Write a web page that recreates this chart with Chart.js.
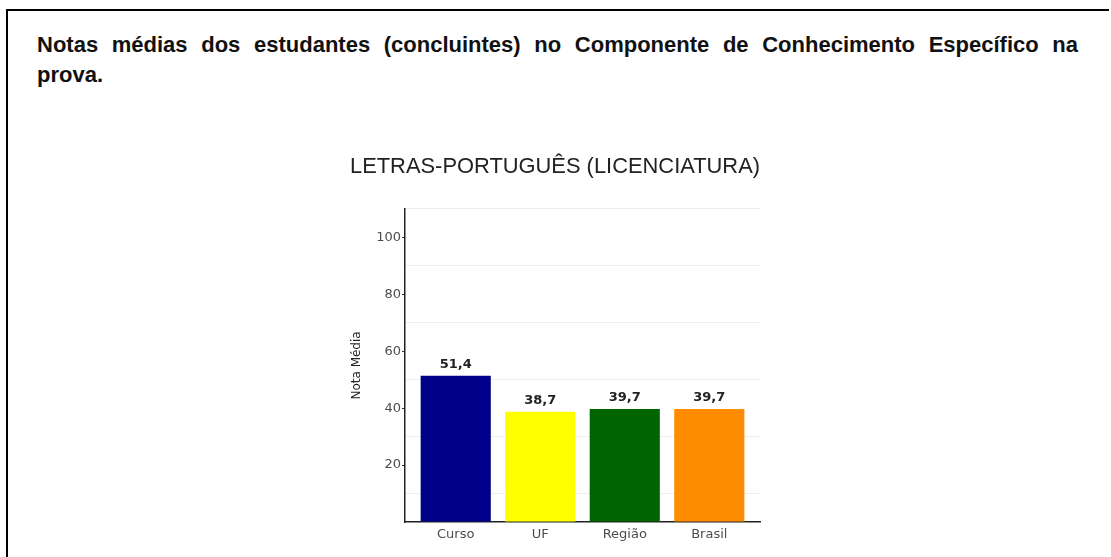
<!DOCTYPE html>
<html>
<head>
<meta charset="utf-8">
<script src="https://cdn.jsdelivr.net/npm/chart.js@4.4.1/dist/chart.umd.min.js"></script>
<style>
  html, body { margin: 0; padding: 0; background: #fff; }
  body { width: 1111px; height: 557px; position: relative; overflow: hidden; }
  #frame { position: absolute; left: 6px; top: 9px; width: 1103px; height: 560px;
           border-top: 2px solid #000; border-left: 2px solid #000; box-sizing: border-box; }
  #heading { position: absolute; left: 37px; top: 30px; width: 1041px;
             font-family: "Liberation Sans", Arial, sans-serif; font-weight: bold;
             font-size: 22px; color: #111; line-height: 30px; }
  #heading .l1 { text-align: justify; text-align-last: justify; white-space: nowrap; }
  #wrap { position: absolute; left: 345px; top: 140px; width: 425px; height: 412px; }
</style>
</head>
<body>
<div id="frame"></div>
<div id="heading">
  <div class="l1">Notas médias dos estudantes (concluintes) no Componente de Conhecimento Específico na</div>
  <div>prova.</div>
</div>
<div id="wrap"><canvas id="c"></canvas></div>
<script>
// ---- data ----
const categories = ["Curso", "UF", "Região", "Brasil"];
const values = [51.4, 38.7, 39.7, 39.7];
const barColors = ["#00008B", "#FFFF00", "#006400", "#FF8C00"];
const yTickLabels = [20, 40, 60, 80, 100];
const chartTitle = "LETRAS-PORTUGUÊS (LICENCIATURA)";
const yTitle = "Nota Média";

const fmt = v => v.toFixed(1).replace(".", ",");

const valueLabels = {
  id: "valueLabels",
  afterDatasetsDraw(chart) {
    const ctx = chart.ctx;
    const meta = chart.getDatasetMeta(0);
    ctx.save();
    ctx.font = "bold 13px 'DejaVu Sans', sans-serif";
    ctx.fillStyle = "#222";
    ctx.textAlign = "center";
    ctx.textBaseline = "bottom";
    meta.data.forEach((bar, i) => {
      ctx.fillText(fmt(values[i]), bar.x, bar.y - 5);
    });
    ctx.restore();
  }
};

new Chart(document.getElementById("c"), {
  type: "bar",
  data: {
    datasets: [{
      data: values.map((v, i) => ({ x: i + 1, y: v })),
      backgroundColor: barColors,
      borderWidth: 0,
      barPercentage: 0.83,
      categoryPercentage: 1.0
    }]
  },
  options: {
    responsive: true,
    maintainAspectRatio: false,
    animation: false,
    layout: { padding: { left: 5, right: 10, top: 0, bottom: 0 } },
    plugins: {
      legend: { display: false },
      tooltip: { enabled: false },
      title: {
        display: true,
        text: chartTitle,
        color: "#222",
        font: { family: "'Liberation Sans', Arial, sans-serif", size: 22.4, weight: "normal" },
        padding: { top: 13, bottom: 29 }
      }
    },
    scales: {
      x: {
        type: "linear",
        min: 0.4,
        max: 4.6,
        offset: false,
        afterBuildTicks: s => { s.ticks = categories.map((c, i) => ({ value: i + 1 })); },
        afterFit: s => { s.height = 30; },
        ticks: {
          callback: v => categories[Math.round(v) - 1],
          color: "#4d4d4d",
          font: { family: "'DejaVu Sans', sans-serif", size: 13 },
          padding: -3,
          maxRotation: 0,
          autoSkip: false
        },
        grid: { display: false, offset: false },
        border: { display: true, color: "#222", width: 1.5 }
      },
      y: {
        min: 0,
        max: 110,
        afterBuildTicks: s => {
          const t = [];
          for (let v = 0; v <= 110; v += 10) t.push({ value: v });
          s.ticks = t;
        },
        afterFit: s => { s.width = 55; },
        ticks: {
          callback: v => (yTickLabels.includes(v) ? String(v) : ""),
          color: "#4d4d4d",
          font: { family: "'DejaVu Sans', sans-serif", size: 13 },
          padding: 1
        },
        grid: {
          color: c => (c.tick && c.tick.value % 20 !== 0 ? "#eeeeee" : "rgba(0,0,0,0)"),
          tickColor: c => (c.tick && yTickLabels.includes(c.tick.value) ? "#333" : "rgba(0,0,0,0)"),
          tickLength: 3,
          lineWidth: 1
        },
        border: { display: true, color: "#222", width: 1.5 },
        title: {
          display: true,
          text: yTitle,
          color: "#222",
          font: { family: "'DejaVu Sans', sans-serif", size: 12 },
          padding: { top: 0, bottom: 0 }
        }
      }
    }
  },
  plugins: [valueLabels]
});
</script>
</body>
</html>
